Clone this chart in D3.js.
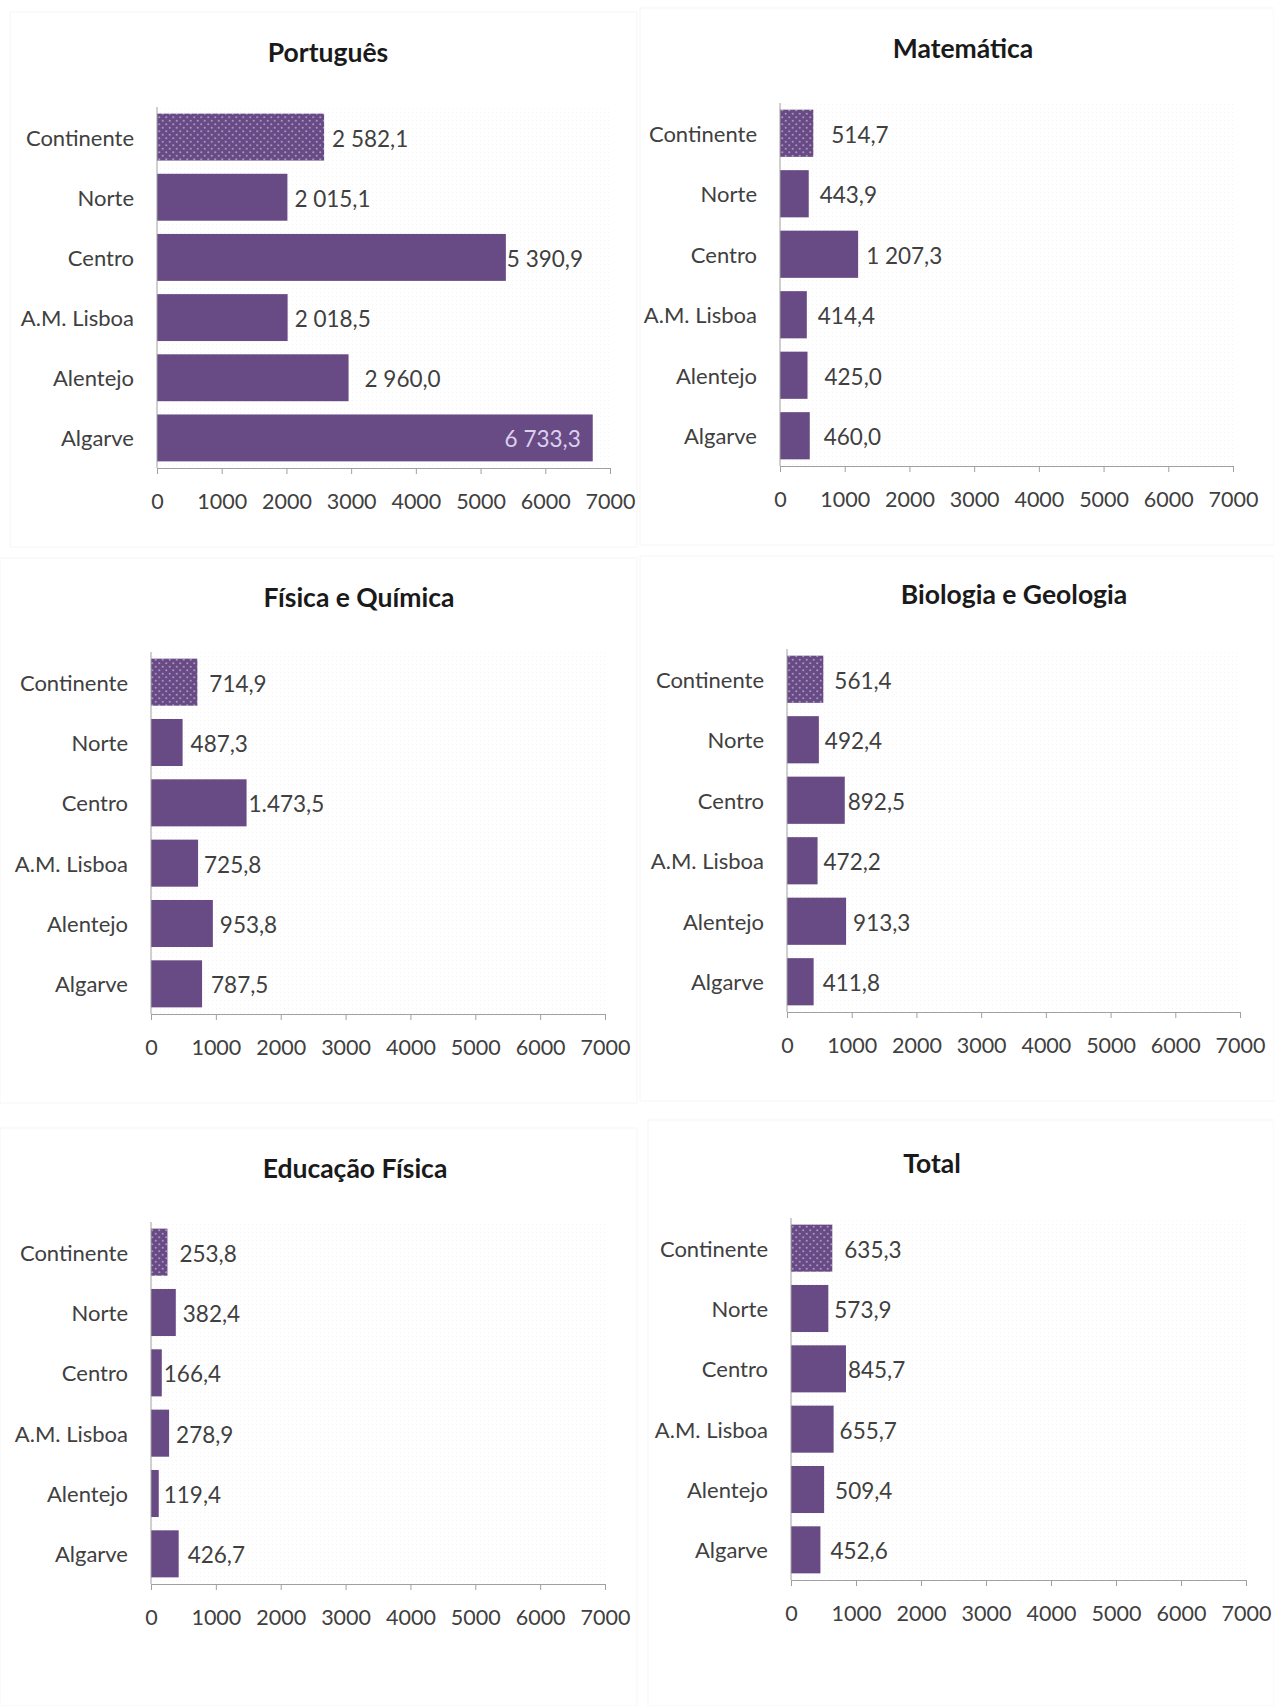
<!DOCTYPE html>
<html>
<head>
<meta charset="utf-8">
<script src="https://cdn.jsdelivr.net/npm/d3@7"></script>
<style>
  body { margin: 0; background: #fff; }
  svg text { font-family: Lato, "Open Sans", sans-serif; }
</style>
</head>
<body>
<div id="chart"></div>
<script>
const WIDTH = 1274,
  HEIGHT = 1706,
  BAR = "#684b84",
  TEXT = "#404040";

// Data
const regions = ["Continente", "Norte", "Centro", "A.M. Lisboa", "Alentejo", "Algarve"];
const xTicks = [0, 1000, 2000, 3000, 4000, 5000, 6000, 7000];
const subjects = ["Português", "Matemática", "Física e Química", "Biologia e Geologia", "Educação Física", "Total"];
const portugues = [2582.1, 2015.1, 5390.9, 2018.5, 2960.0, 6733.3];
const matematica = [514.7, 443.9, 1207.3, 414.4, 425.0, 460.0];
const fisicaQuimica = [714.9, 487.3, 1473.5, 725.8, 953.8, 787.5];
const biologiaGeologia = [561.4, 492.4, 892.5, 472.2, 913.3, 411.8];
const educacaoFisica = [253.8, 382.4, 166.4, 278.9, 119.4, 426.7];
const total = [635.3, 573.9, 845.7, 655.7, 509.4, 452.6];
const series = [portugues, matematica, fisicaQuimica, biologiaGeologia, educacaoFisica, total];

// Layout of each small chart (x0/x1 = axis ends, top/axisY = plot vertical extent)
const layout = [
  {x0: 157, x1: 610, top: 107, axisY: 468, tx: 328, ty: 52, box: [10, 12, 627, 535],
    gaps: [8, 7, 1, 7, 16, -12]},
  {x0: 780, x1: 1233, top: 103, axisY: 466, tx: 963, ty: 48, box: [640, 8, 634, 537],
    gaps: [18, 11, 8, 11, 17, 14]},
  {x0: 151, x1: 605, top: 652, axisY: 1014, tx: 359, ty: 597, box: [0, 558, 637, 545],
    gaps: [12, 8, 2, 6, 7, 9]},
  {x0: 787, x1: 1240, top: 649, axisY: 1012, tx: 1014, ty: 594, box: [640, 556, 634, 545],
    gaps: [11, 6, 3, 6, 7, 9]},
  {x0: 151, x1: 605, top: 1222, axisY: 1584, tx: 355, ty: 1168, box: [0, 1128, 637, 578],
    gaps: [12, 7, 2, 7, 5, 9]},
  {x0: 791, x1: 1246, top: 1218, axisY: 1580, tx: 932, ty: 1163, box: [648, 1120, 626, 586],
    gaps: [12, 6, 2, 6, 11, 10]}
];

const pt = d3.formatLocale({decimal: ",", thousands: "\u00a0", grouping: [3]}),
  fmt = pt.format(",.1f");
// the Centro label of "Física e Química" is written with a dot in the original
const labelOverride = {"2-2": "1.473,5"};

const svg = d3.select("#chart").append("svg")
  .attr("width", WIDTH)
  .attr("height", HEIGHT);

const defs = svg.append("defs");
const dots = defs.append("pattern")
  .attr("id", "dots")
  .attr("patternUnits", "userSpaceOnUse")
  .attr("width", 7).attr("height", 7);
dots.append("rect").attr("width", 7).attr("height", 7).attr("fill", BAR);
dots.append("circle").attr("cx", 1.75).attr("cy", 1.75).attr("r", 1.1).attr("fill", "#a792c2");
dots.append("circle").attr("cx", 5.25).attr("cy", 5.25).attr("r", 1.1).attr("fill", "#a792c2");

const bgDots = defs.append("pattern")
  .attr("id", "bgdots")
  .attr("patternUnits", "userSpaceOnUse")
  .attr("width", 4).attr("height", 4);
bgDots.append("rect").attr("width", 1).attr("height", 1).attr("fill", "#f4f4f4");

function renderPanel(values, title, L, p) {
  const g = svg.append("g");

  g.append("rect")
    .attr("x", L.box[0]).attr("y", L.box[1])
    .attr("width", L.box[2]).attr("height", L.box[3])
    .attr("fill", "none")
    .attr("stroke", "#f6f6f6");

  const x = d3.scaleLinear().domain([0, 7000]).range([L.x0, L.x1]),
    y = d3.scaleBand().domain(regions).range([L.top, L.axisY])
      .paddingInner(0.22).paddingOuter(0.11);

  // faint dotted plot background
  g.append("rect")
    .attr("x", L.x0).attr("y", L.top)
    .attr("width", L.x1 - L.x0).attr("height", L.axisY - L.top)
    .attr("fill", "url(#bgdots)");

  g.append("text")
    .attr("x", L.tx).attr("y", L.ty)
    .attr("text-anchor", "middle")
    .attr("dominant-baseline", "central")
    .attr("font-size", 26.5)
    .attr("font-weight", "bold")
    .attr("fill", "#1a1a1a")
    .text(title);

  g.selectAll("rect.bar")
    .data(values)
    .enter()
    .append("rect")
    .attr("class", "bar")
    .attr("x", x(0))
    .attr("y", (d, i) => y(regions[i]))
    .attr("width", d => x(d) - x(0))
    .attr("height", y.bandwidth())
    .attr("fill", (d, i) => i === 0 ? "url(#dots)" : BAR);

  // category labels
  g.selectAll("text.cat")
    .data(regions)
    .enter()
    .append("text")
    .attr("class", "cat")
    .attr("x", L.x0 - 23)
    .attr("y", d => y(d) + y.bandwidth() / 2)
    .attr("text-anchor", "end")
    .attr("dominant-baseline", "central")
    .attr("font-size", 22)
    .attr("fill", TEXT)
    .text(d => d);

  // value labels
  g.selectAll("text.val")
    .data(values)
    .enter()
    .append("text")
    .attr("class", "val")
    .attr("x", (d, i) => x(d) + L.gaps[i])
    .attr("y", (d, i) => y(regions[i]) + y.bandwidth() / 2 + 1)
    .attr("text-anchor", (d, i) => L.gaps[i] < 0 ? "end" : "start")
    .attr("dominant-baseline", "central")
    .attr("font-size", 22.5)
    .attr("fill", (d, i) => L.gaps[i] < 0 ? "#dcd0ee" : TEXT)
    .text((d, i) => labelOverride[p + "-" + i] || fmt(d));

  // axes
  const xAxis = g.append("g")
    .attr("transform", `translate(0,${L.axisY})`)
    .call(d3.axisBottom(x).tickValues(xTicks).tickFormat(d3.format("d")).tickSizeOuter(0).tickSize(6).tickPadding(20));
  xAxis.select(".domain").attr("stroke", "#a0a0a0");
  xAxis.selectAll(".tick line").attr("stroke", "#a0a0a0");
  xAxis.selectAll(".tick text")
    .attr("font-size", 21.5)
    .attr("font-family", "Lato, sans-serif")
    .attr("fill", TEXT);

  g.append("line")
    .attr("x1", L.x0).attr("x2", L.x0)
    .attr("y1", L.top).attr("y2", L.axisY)
    .attr("stroke", "#a0a0a0");
}

series.forEach((values, p) => renderPanel(values, subjects[p], layout[p], p));
</script>
</body>
</html>
